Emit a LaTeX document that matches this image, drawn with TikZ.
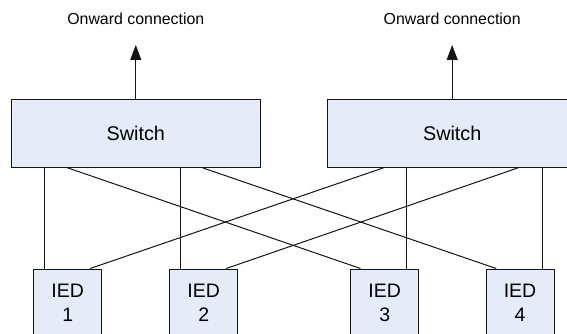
\documentclass[tikz,border=0pt]{standalone}
\usepackage{fontspec}
\setmainfont{Liberation Sans}
\usetikzlibrary{calc,arrows.meta}
\definecolor{boxfill}{RGB}{230,236,247}
\definecolor{linecol}{RGB}{20,20,20}
\tikzset{
  switchbox/.style={draw=linecol, line width=1pt, fill=boxfill,
    minimum width=249pt, minimum height=68pt, inner sep=0pt,
    font=\fontsize{19.8pt}{24pt}\selectfont},
  iedbox/.style={draw=linecol, line width=1pt, fill=boxfill,
    minimum width=68pt, minimum height=68pt, inner sep=0pt, align=center,
    font=\fontsize{19.5pt}{24.3pt}\selectfont},
  caption/.style={anchor=base, inner sep=0pt,
    font=\fontsize{15.9pt}{19pt}\selectfont},
  link/.style={draw=linecol, line width=1pt},
  uplink/.style={link, -{Triangle[length=15pt,width=11pt]}}
}
\begin{document}
\begin{tikzpicture}[x=1pt, y=-1pt]
  \path[use as bounding box, clip] (0,0) rectangle (567,334);

  % switches
  \node[switchbox] (sw1) at (135.8,133.3) {Switch};
  \node[switchbox] (sw2) at (452.2,133.3) {Switch};

  % IEDs
  \node[iedbox] (ied1) at (67.7,303) {IED\\1};
  \node[iedbox] (ied2) at (203.7,303) {IED\\2};
  \node[iedbox] (ied3) at (384.7,303) {IED\\3};
  \node[iedbox] (ied4) at (520,303) {IED\\4};

  % onward connections
  \coordinate (up1) at (135.8,45);
  \coordinate (up2) at (452.2,45);
  \draw[uplink] (sw1.north) -- (up1);
  \draw[uplink] (sw2.north) -- (up2);
  \node[caption] (on1) at (135.8,25) {Onward connection};
  \node[caption] (on2) at (452.2,25) {Onward connection};

  % ports on top of each IED
  \coordinate (i1a) at ($(ied1.north west)+(11.3,0)$);
  \coordinate (i1b) at ($(ied1.north west)+(57,0)$);
  \coordinate (i2a) at ($(ied2.north west)+(11,0)$);
  \coordinate (i2b) at ($(ied2.north west)+(57,0)$);
  \coordinate (i3a) at ($(ied3.north west)+(10.3,0)$);
  \coordinate (i3b) at ($(ied3.north west)+(56,0)$);
  \coordinate (i4a) at ($(ied4.north west)+(10.7,0)$);
  \coordinate (i4b) at ($(ied4.north west)+(56.7,0)$);

  % switch 1 links
  \draw[link] (i1a) -- (i1a |- sw1.south);
  \draw[link] (i2a) -- (i2a |- sw1.south);
  \draw[link] ($(sw1.south west)+(56.7,0)$) -- (i3a);
  \draw[link] ($(sw1.south west)+(191.7,0)$) -- (i4a);

  % switch 2 links
  \draw[link] ($(sw2.south west)+(56.3,0)$) -- (i1b);
  \draw[link] ($(sw2.south west)+(191,0)$) -- (i2b);
  \draw[link] (i3b) -- (i3b |- sw2.south);
  \draw[link] (i4b) -- (i4b |- sw2.south);
\end{tikzpicture}
\end{document}
